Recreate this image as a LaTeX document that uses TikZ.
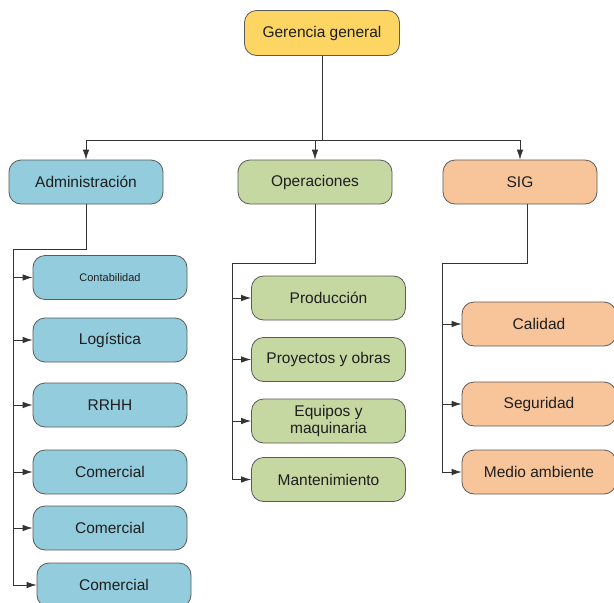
\documentclass[tikz,border=0pt]{standalone}
\usepackage{fontspec}
\setmainfont{Liberation Sans}
\usepackage{tikz}
\usetikzlibrary{arrows.meta}
\definecolor{gerfill}{HTML}{FDD563}
\definecolor{admfill}{HTML}{93CDDD}
\definecolor{opsfill}{HTML}{C6D8A2}
\definecolor{sigfill}{HTML}{F8C59A}
\definecolor{boxline}{HTML}{5A5A5A}
\definecolor{wire}{HTML}{333333}
\definecolor{txt}{HTML}{1E1E1E}
\begin{document}
\begin{tikzpicture}[x=1pt,y=-1pt,
        area/.style={draw=boxline,line width=0.8pt,rounded corners=12pt,minimum width=154pt,
                minimum height=44pt,text=txt,align=center,font=\fontsize{15.5}{18}\selectfont},
        wirel/.style={draw=wire,line width=0.8pt},
        arr/.style={wirel,-{Latex[length=10pt,width=6.5pt]}}]
        \useasboundingbox (0,0) rectangle (614,603);
        % top level
        \node[area,fill=gerfill,minimum width=155pt,minimum height=45pt] (ger) at (322,33) {Gerencia general};
        \node[area,fill=admfill] (adm) at (86,182) {Administración};
        \node[area,fill=opsfill] (ops) at (315,182) {Operaciones};
        \node[area,fill=sigfill] (sig) at (520,182) {SIG};
        \coordinate (busT) at (322,140);
        \draw[wirel] (ger.south) -- (busT);
        \draw[arr] (busT) -| (adm.north);
        \draw[arr] (busT) -| (ops.north);
        \draw[arr] (busT) -| (sig.north);
        % Administracion
        \node[area,fill=admfill,font=\fontsize{11}{13}\selectfont] (cont) at (110,277.5) {Contabilidad};
        \node[area,fill=admfill] (log) at (110,340) {Logística};
        \node[area,fill=admfill] (rrhh) at (110,405) {RRHH};
        \node[area,fill=admfill] (comA) at (110,472) {Comercial};
        \node[area,fill=admfill] (comB) at (110,528) {Comercial};
        \node[area,fill=admfill] (comC) at (114,585) {Comercial};
        \coordinate (admB) at (13,249);
        \draw[wirel] (adm.south) |- (admB);
        \foreach \n in {cont,log,rrhh,comA,comB,comC}
                \draw[arr] (admB) |- (\n.west);
        % Operaciones
        \node[area,fill=opsfill] (prod) at (328.5,298) {Producción};
        \node[area,fill=opsfill] (proy) at (328.5,359.5) {Proyectos y obras};
        \node[area,fill=opsfill,font=\fontsize{15.5}{17}\selectfont] (equ) at (328.5,421) {Equipos y\\maquinaria};
        \node[area,fill=opsfill] (mant) at (328.5,479.5) {Mantenimiento};
        \coordinate (opsB) at (232,263);
        \draw[wirel] (ops.south) |- (opsB);
        \foreach \n in {prod,proy,equ,mant}
                \draw[arr] (opsB) |- (\n.west);
        % SIG
        \node[area,fill=sigfill] (cal) at (539,324) {Calidad};
        \node[area,fill=sigfill] (seg) at (539,404) {Seguridad};
        \node[area,fill=sigfill] (med) at (539,472) {Medio ambiente};
        \coordinate (sigB) at (442,263);
        \draw[wirel] ([xshift=7pt]sig.south) |- (sigB);
        \foreach \n in {cal,seg,med}
                \draw[arr] (sigB) |- (\n.west);
\end{tikzpicture}
\end{document}
